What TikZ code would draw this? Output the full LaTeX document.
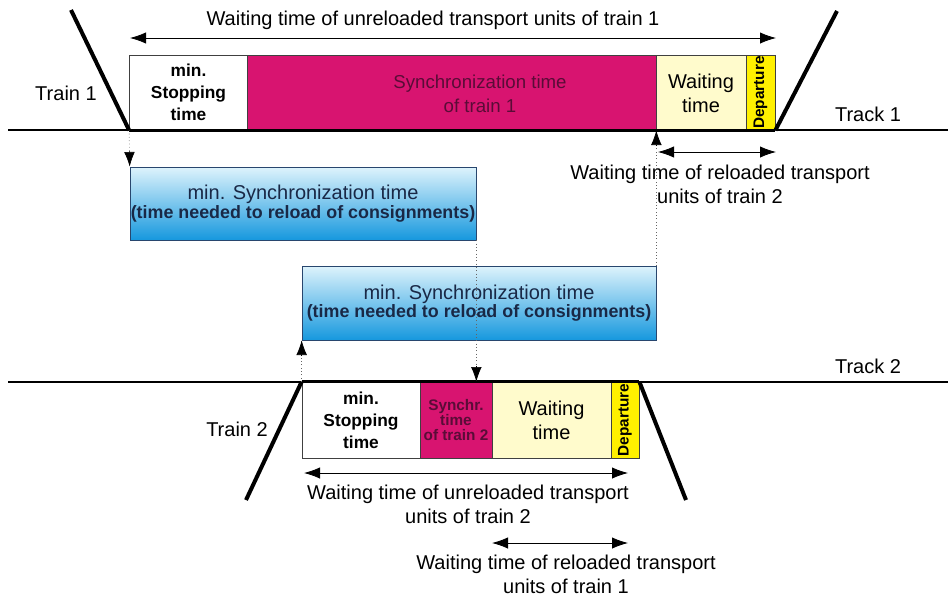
\documentclass[tikz,border=0pt]{standalone}
\usepackage{fontspec}
\setmainfont{Liberation Sans}
\usetikzlibrary{arrows.meta,calc}
\definecolor{mag}{RGB}{216,20,112}
\definecolor{magtext}{RGB}{90,12,55}
\definecolor{lyel}{RGB}{255,251,204}
\definecolor{yel}{RGB}{255,240,0}
\definecolor{bluetop}{RGB}{222,243,252}
\definecolor{bluebot}{RGB}{22,152,222}
\definecolor{blueedge}{RGB}{40,70,110}
\definecolor{bluetext}{RGB}{25,40,70}
\tikzset{
  box/.style={draw=black!75, line width=0.5pt, inner sep=0pt, align=center},
  bluebox/.style={box, draw=blueedge, top color=bluetop, bottom color=bluebot, text=bluetext},
  lbl/.style={font=\fontsize{15}{18}\selectfont, align=center, inner sep=0pt},
  boldtxt/.style={font=\fontsize{13}{16.5}\selectfont\bfseries},
  deptxt/.style={font=\fontsize{11.5}{12}\selectfont\bfseries, rotate=90, inner sep=0pt},
  track/.style={line width=1.1pt},
  trainline/.style={line width=2.3pt},
  diag/.style={line width=3pt},
  dimarrow/.style={{Latex[length=12pt,width=8.5pt]}-{Latex[length=12pt,width=8.5pt]}, line width=0.6pt},
  dotline/.style={dotted, line width=0.5pt, draw=black!60},
  dottip/.style={-{Latex[length=11pt,width=8pt]}, solid, line width=0.5pt, draw=black, fill=black},
}
\begin{document}
\begin{tikzpicture}[x=0.75pt,y=-0.75pt]
\useasboundingbox (0,0) rectangle (948,596);

% ---------------- Track 1 ----------------
\coordinate (t1l) at (8,130);
\coordinate (t1r) at (948,130);
\draw[track] (t1l) -- (t1r);

\node[box, fill=white, minimum width=88.5pt, minimum height=56.25pt, boldtxt] (s1) at (188.5,92.5) {min.\\Stopping\\time};
\node[box, fill=mag, minimum width=306.75pt, minimum height=56.25pt] (m1) at (451.5,92.5) {};
\node[lbl, font=\fontsize{14}{18}\selectfont, text=magtext] (m1t) at (480,94) {Synchronization time\\of train 1};
\node[box, fill=lyel, minimum width=67.5pt, minimum height=56.25pt, font=\fontsize{15}{18}\selectfont] (w1) at (701,93) {Waiting\\time};
\node[box, fill=yel, minimum width=21.75pt, minimum height=56.25pt] (d1) at (760.5,92.5) {};
\node[deptxt] (d1t) at (d1.center) {Departure};

\draw[trainline] (s1.south west) -- (d1.south east);
\coordinate (tr1a) at (71,10);
\coordinate (tr1b) at (837,11);
\draw[diag] (tr1a) -- (s1.south west);
\draw[diag] (d1.south east) -- (tr1b);

\node[lbl] (lt1) at (66,93) {Train 1};
\node[lbl] (lk1) at (868,114) {Track 1};

% top dimension
\coordinate (a1l) at (130,38);
\coordinate (a1r) at (776,38);
\draw[dimarrow] (a1l) -- (a1r);
\node[lbl] (a1t) at (433,20) {Waiting time of unreloaded transport units of train 1};

% reloaded train 2 dimension
\coordinate (a2l) at (658,152);
\coordinate (a2r) at (776,152);
\draw[dimarrow] (a2l) -- (a2r);
\node[lbl] (a2t) at (720,184) {Waiting time of reloaded transport\\units of train 2};

% ---------------- Sync boxes ----------------
\node[bluebox, minimum width=259.5pt, minimum height=54.75pt] (b1) at (303,203.5)
  {{\fontsize{15}{16.5}\selectfont min. Synchronization time}\\{\fontsize{13.4}{16.5}\selectfont\bfseries (time needed to reload of consignments)}};
\node[bluebox, minimum width=265.5pt, minimum height=55.5pt] (b2) at (479,303)
  {{\fontsize{15}{16.5}\selectfont min. Synchronization time}\\{\fontsize{13.4}{16.5}\selectfont\bfseries (time needed to reload of consignments)}};

% ---------------- Track 2 ----------------
\coordinate (t2l) at (8,382);
\coordinate (t2r) at (948,382);
\draw[track] (t2l) -- (t2r);

\node[box, fill=white, minimum width=88.5pt, minimum height=57pt, boldtxt] (s2) at (361,420) {min.\\Stopping\\time};
\node[box, fill=mag, minimum width=54pt, minimum height=57pt, text=magtext, font=\fontsize{11.5}{11.5}\selectfont\bfseries] (m2) at (456,420) {Synchr.\\time\\of train 2};
\node[box, fill=lyel, minimum width=89.25pt, minimum height=57pt, font=\fontsize{15}{18}\selectfont] (w2) at (551.5,420) {Waiting\\time};
\node[box, fill=yel, minimum width=21pt, minimum height=57pt] (d2) at (625,420) {};
\node[deptxt] (d2t) at (d2.center) {Departure};

\draw[trainline] (s2.north west) -- (d2.north east);
\coordinate (tr2a) at (246,500);
\coordinate (tr2b) at (686,500);
\draw[diag] (tr2a) -- (s2.north west);
\draw[diag] (d2.north east) -- (tr2b);

\node[lbl] (lt2) at (237,429) {Train 2};
\node[lbl] (lk2) at (868,366) {Track 2};

% bottom dimensions
\coordinate (a3l) at (304,473);
\coordinate (a3r) at (628,473);
\draw[dimarrow] (a3l) -- (a3r);
\node[lbl] (a3t) at (468,504) {Waiting time of unreloaded transport\\units of train 2};

\coordinate (a4l) at (492,543);
\coordinate (a4r) at (628,543);
\draw[dimarrow] (a4l) -- (a4r);
\node[lbl] (a4t) at (566,574) {Waiting time of reloaded transport\\units of train 1};

% ---------------- dotted connectors ----------------
\coordinate (p2) at (b1.south east |- s2.north);
\draw[dotline] (s1.south west) -- (b1.north west);
\draw[dottip] ($(b1.north west)!11.5pt!(s1.south west)$) -- (b1.north west);
\draw[dotline] (b1.south east) -- (p2);
\draw[dottip] ($(p2)!11.5pt!(b1.south east)$) -- (p2);
\draw[dotline] (b2.north east) -- (m1.south east);
\draw[dottip] ($(m1.south east)!11.5pt!(b2.north east)$) -- (m1.south east);
\draw[dotline] (s2.north west) -- (b2.south west);
\draw[dottip] ($(b2.south west)!11.5pt!(s2.north west)$) -- (b2.south west);
\end{tikzpicture}
\end{document}
